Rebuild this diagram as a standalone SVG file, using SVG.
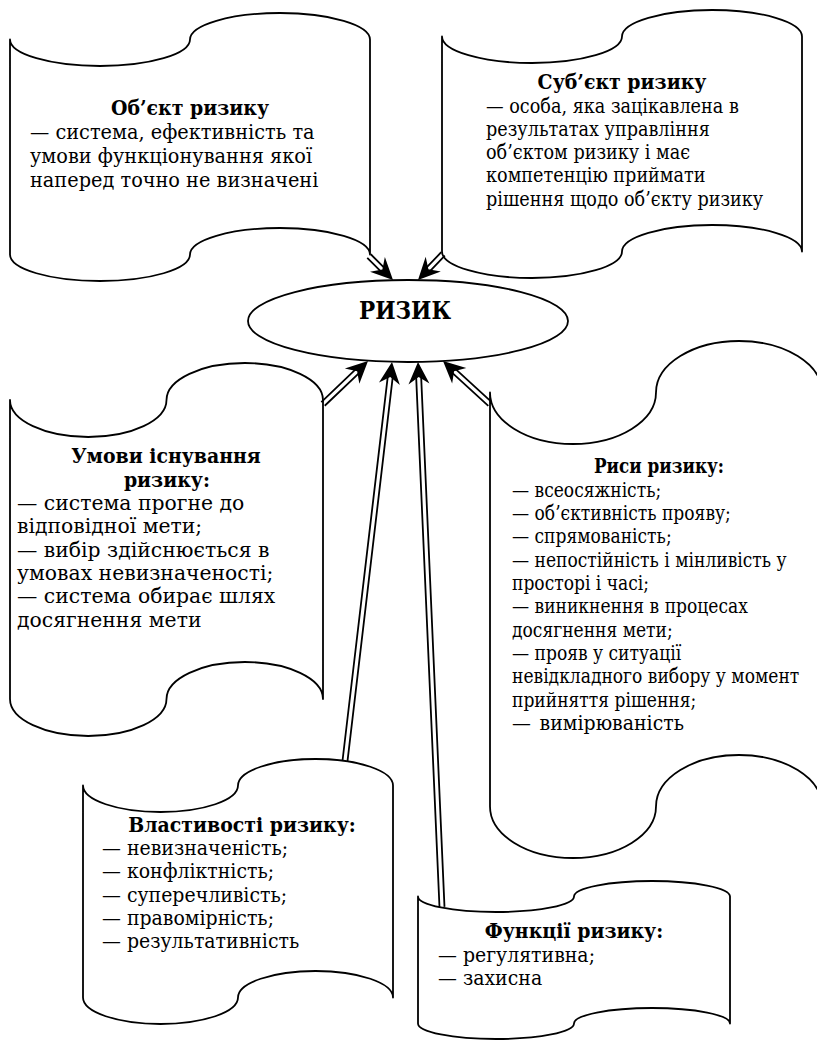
<svg xmlns="http://www.w3.org/2000/svg" width="817" height="1040" viewBox="0 0 817 1040">
<style>
.bg{fill:#fff}
.shape{fill:#fff;stroke:#000;stroke-width:1.8;stroke-linejoin:round}
.t{font-family:'DejaVu Serif','Liberation Serif',serif;font-size:21px;fill:#000}
.b{font-weight:bold}
.c{text-anchor:middle}
.sh{stroke:#000;stroke-width:1.8;fill:none}
.hd{fill:#000;stroke:none}
</style>
<rect class="bg" x="0" y="0" width="817" height="1040"/>

<g id="n-object">
<path class="shape" d="M10,39.5 A90,26.5 0 0 0 190,39.5 A90,26.5 0 0 1 370,39.5 L370,254.5 A90,26.5 0 0 0 190,254.5 A90,26.5 0 0 1 10,254.5 Z"/>
<g transform="translate(190,0) scale(0.9,1)"><text class="t b c" x="0" y="115">Об’єкт ризику</text></g>
<g transform="translate(30,0) scale(0.92,1)">
<text class="t" x="0" y="139">— система, ефективність та</text>
<text class="t" x="0" y="163">умови функціонування якої</text>
<text class="t" x="0" y="187">наперед точно не визначені</text>
</g>
</g>

<g id="n-subject">
<path class="shape" d="M442,36.5 A90,26.5 0 0 0 622,36.5 A90,26.5 0 0 1 802,36.5 L802,251.5 A90,26.5 0 0 0 622,251.5 A90,26.5 0 0 1 442,251.5 Z"/>
<g transform="translate(622,0) scale(0.9,1)"><text class="t b c" x="0" y="89">Суб’єкт ризику</text></g>
<g transform="translate(486,0) scale(0.84,1)">
<text class="t" x="0" y="113">— особа, яка зацікавлена в</text>
<text class="t" x="0" y="136">результатах управління</text>
<text class="t" x="0" y="159">об’єктом ризику і має</text>
<text class="t" x="0" y="182">компетенцію приймати</text>
<text class="t" x="0" y="206">рішення щодо об’єкту ризику</text>
</g>
</g>

<g id="n-risk">
<ellipse class="shape" cx="408" cy="321" rx="160" ry="41"/>
<text class="t b c" x="405" y="319" style="font-size:24px" textLength="92" lengthAdjust="spacingAndGlyphs">РИЗИК</text>
</g>

<g id="n-conditions">
<path class="shape" d="M10,400 A78.25,37 0 0 0 166.5,400 A78.25,37 0 0 1 323,400 L323,699 A78.25,37 0 0 0 166.5,699 A78.25,37 0 0 1 10,699 Z"/>
<g transform="translate(166,0) scale(0.9,1)">
<text class="t b c" x="0" y="463">Умови існування</text>
<text class="t b c" x="1" y="487">ризику:</text>
</g>
<g transform="translate(17,0) scale(0.97,1)">
<text class="t" x="0" y="510">— система прогне до</text>
<text class="t" x="0" y="533">відповідної мети;</text>
<text class="t" x="0" y="557">— вибір здійснюється в</text>
<text class="t" x="0" y="580">умовах невизначеності;</text>
<text class="t" x="0" y="603">— система обирає шлях</text>
<text class="t" x="0" y="627">досягнення мети</text>
</g>
</g>

<g id="n-features">
<path class="shape" d="M490,392.5 A83,51.5 0 0 0 656,392.5 A83,51.5 0 0 1 822,392.5 L822,806.5 A83,51.5 0 0 0 656,806.5 A83,51.5 0 0 1 490,806.5 Z"/>
<g transform="translate(659,0) scale(0.8,1)"><text class="t b c" x="0" y="473">Риси ризику:</text></g>
<g transform="translate(512,0) scale(0.815,1)">
<text class="t" x="0" y="497">— всеосяжність;</text>
<text class="t" x="0" y="520">— об’єктивність прояву;</text>
<text class="t" x="0" y="543">— спрямованість;</text>
<text class="t" x="0" y="567">— непостійність і мінливість у</text>
<text class="t" x="0" y="590">просторі і часі;</text>
<text class="t" x="0" y="613">— виникнення в процесах</text>
<text class="t" x="0" y="637">досягнення мети;</text>
<text class="t" x="0" y="660">— прояв у ситуації</text>
<text class="t" x="0" y="683">невідкладного вибору у момент</text>
<text class="t" x="0" y="707">прийняття рішення;</text>
</g>
<g transform="translate(512,0) scale(0.9,1)"><text class="t" x="0" y="730">— <tspan dx="3">вимірюваність</tspan></text></g>
</g>

<g id="n-properties">
<path class="shape" d="M83,785.5 A77.5,26.5 0 0 0 238,785.5 A77.5,26.5 0 0 1 393,785.5 L393,997.5 A77.5,26.5 0 0 0 238,997.5 A77.5,26.5 0 0 1 83,997.5 Z"/>
<g transform="translate(242,0) scale(0.9,1)"><text class="t b c" x="0" y="832">Властивості ризику:</text></g>
<g transform="translate(102,0) scale(0.9,1)">
<text class="t" x="0" y="855">— невизначеність;</text>
<text class="t" x="0" y="878">— конфліктність;</text>
<text class="t" x="0" y="902">— суперечливість;</text>
<text class="t" x="0" y="925">— правомірність;</text>
<text class="t" x="0" y="948">— результативність</text>
</g>
</g>

<g id="n-functions">
<path class="shape" d="M418,896.5 A78,15.5 0 0 0 574,896.5 A78,15.5 0 0 1 730,896.5 L730,1023.5 A78,15.5 0 0 0 574,1023.5 A78,15.5 0 0 1 418,1023.5 Z"/>
<g transform="translate(574,0) scale(0.9,1)"><text class="t b c" x="0" y="938">Функції ризику:</text></g>
<g transform="translate(438,0) scale(0.9,1)">
<text class="t" x="0" y="962">— регулятивна;</text>
<text class="t" x="0" y="985">— захисна</text>
</g>
</g>

<g id="connectors">
<g transform="translate(393,280) rotate(45)"><path class="sh" d="M-33.9,-2.5 H-13 M-33.9,2.5 H-13"/><path class="hd" d="M0,0 L-22,-10.5 L-15,0 L-22,10.5 Z"/></g>
<g transform="translate(418,280) rotate(133.88)"><path class="sh" d="M-36.1,-2.5 H-13 M-36.1,2.5 H-13"/><path class="hd" d="M0,0 L-22,-10.5 L-15,0 L-22,10.5 Z"/></g>
<g transform="translate(368,361) rotate(-43.69)"><path class="sh" d="M-62.2,-2.5 H-13 M-62.2,2.5 H-13"/><path class="hd" d="M0,0 L-22,-10.5 L-15,0 L-22,10.5 Z"/></g>
<g transform="translate(392,362) rotate(-83.28)"><path class="sh" d="M-401.8,-2.5 H-13 M-401.8,2.5 H-13"/><path class="hd" d="M0,0 L-22,-10.5 L-15,0 L-22,10.5 Z"/></g>
<g transform="translate(418,362) rotate(-92.52)"><path class="sh" d="M-545.5,-2.5 H-13 M-545.5,2.5 H-13"/><path class="hd" d="M0,0 L-22,-10.5 L-15,0 L-22,10.5 Z"/></g>
<g transform="translate(443,361) rotate(-137.54)"><path class="sh" d="M-63.7,-2.5 H-13 M-63.7,2.5 H-13"/><path class="hd" d="M0,0 L-22,-10.5 L-15,0 L-22,10.5 Z"/></g>
</g>
</svg>
